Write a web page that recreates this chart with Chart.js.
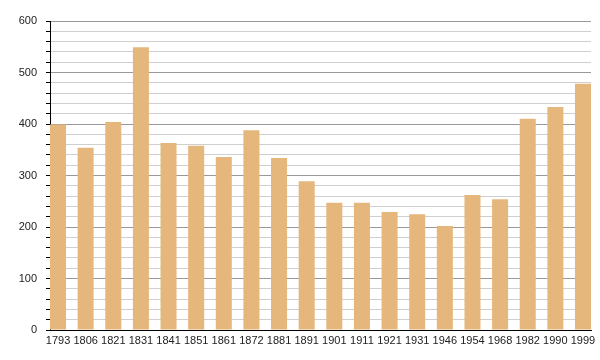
<!DOCTYPE html>
<html lang="en">
<head>
  <meta charset="UTF-8" />
  <title>Population</title>
  <script src="https://cdn.jsdelivr.net/npm/chart.js"></script>
  <style>
    body {
      margin: 0;
      padding: 0;
      background: #fff;
    }
    .wrap {
      width: 600px;
      height: 360px;
    }
  </style>
</head>
<body>
  <div class="wrap">
    <canvas id="popChart" width="600" height="360"></canvas>
  </div>

  <script>
    const years = ['1793', '1806', '1821', '1831', '1841', '1851', '1861', '1872', '1881', '1891',
                   '1901', '1911', '1921', '1931', '1946', '1954', '1968', '1982', '1990', '1999'];
    const population = [399, 354, 404, 549, 363, 358, 336, 388, 334, 289,
                         247, 247, 229, 225, 202, 262, 254, 410, 433, 478];
    const yTicks = [0, 100, 200, 300, 400, 500, 600];

    const points = population.map((v, i) => ({ x: i, y: v }));

    new Chart(document.getElementById('popChart').getContext('2d'), {
      type: 'bar',
      data: {
        datasets: [{
          data: points,
          backgroundColor: '#e5b77c',
          borderWidth: 0,
          categoryPercentage: 1,
          barPercentage: 0.58
        }]
      },
      options: {
        responsive: false,
        animation: false,
        layout: { padding: { top: 21, right: 9, bottom: 0, left: 0 } },
        plugins: {
          legend: { display: false },
          tooltip: { enabled: false }
        },
        scales: {
          x: {
            type: 'linear',
            offset: false,
            min: -0.29,
            max: 19.29,
            afterFit: s => { s.height = 30; },
            grid: { offset: false, drawOnChartArea: false, drawTicks: false },
            border: { color: '#000', width: 1 },
            ticks: {
              stepSize: 1,
              includeBounds: false,
              autoSkip: false,
              maxRotation: 0,
              padding: 4,
              color: '#222',
              font: { family: 'Liberation Sans', size: 11 },
              callback: v => Number.isInteger(v) ? years[v] : ''
            }
          },
          y: {
            min: 0,
            max: 600,
            afterFit: s => { s.width = 50; },
            grid: {
              color: c => c.tick.value === 0 ? '#000' : (yTicks.includes(c.tick.value) ? '#999' : '#cfcfcf'),
              tickColor: '#000',
              tickLength: 4
            },
            border: { color: '#000', width: 1 },
            ticks: {
              stepSize: 20,
              autoSkip: false,
              padding: 9,
              color: '#222',
              font: { family: 'Liberation Sans', size: 11 },
              callback: v => yTicks.includes(v) ? v : ''
            }
          }
        }
      }
    });
  </script>
</body>
</html>
